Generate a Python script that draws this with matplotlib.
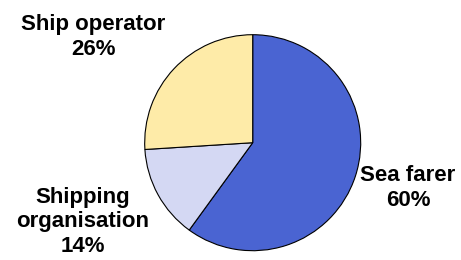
import matplotlib

matplotlib.use("Agg")
import matplotlib.pyplot as plt

categories = ["Sea farer", "Shipping organisation", "Ship operator"]
shares = [60, 14, 26]
label_texts = ["Sea farer\n60%", "Shipping\norganisation\n14%", "Ship operator\n26%"]
colors = ["#4A64D2", "#D4D8F3", "#FEEBA8"]

W, H = 461, 260
fig = plt.figure(figsize=(W / 100, H / 100), dpi=100)
ax = fig.add_axes([0, 0, 1, 1])

cx, cy, r = 252.7, H - 142.7, 108
ax.pie(
    shares,
    colors=colors,
    startangle=90,
    counterclock=False,
    center=(cx, cy),
    radius=r,
    wedgeprops=dict(edgecolor="black", linewidth=0.8),
)
ax.set_xlim(0, W)
ax.set_ylim(0, H)
ax.set_aspect("equal")
ax.axis("off")

# label positions in pixels (x, y from top)
label_pos = [(408, 188), (83, 222), (93, 37)]
for txt, (x, y) in zip(label_texts, label_pos):
    ax.text(x, H - y, txt, ha="center", va="center", fontsize=16,
            fontweight="bold", family="Liberation Sans", linespacing=1.2)

fig.savefig("out.png", dpi=100)
